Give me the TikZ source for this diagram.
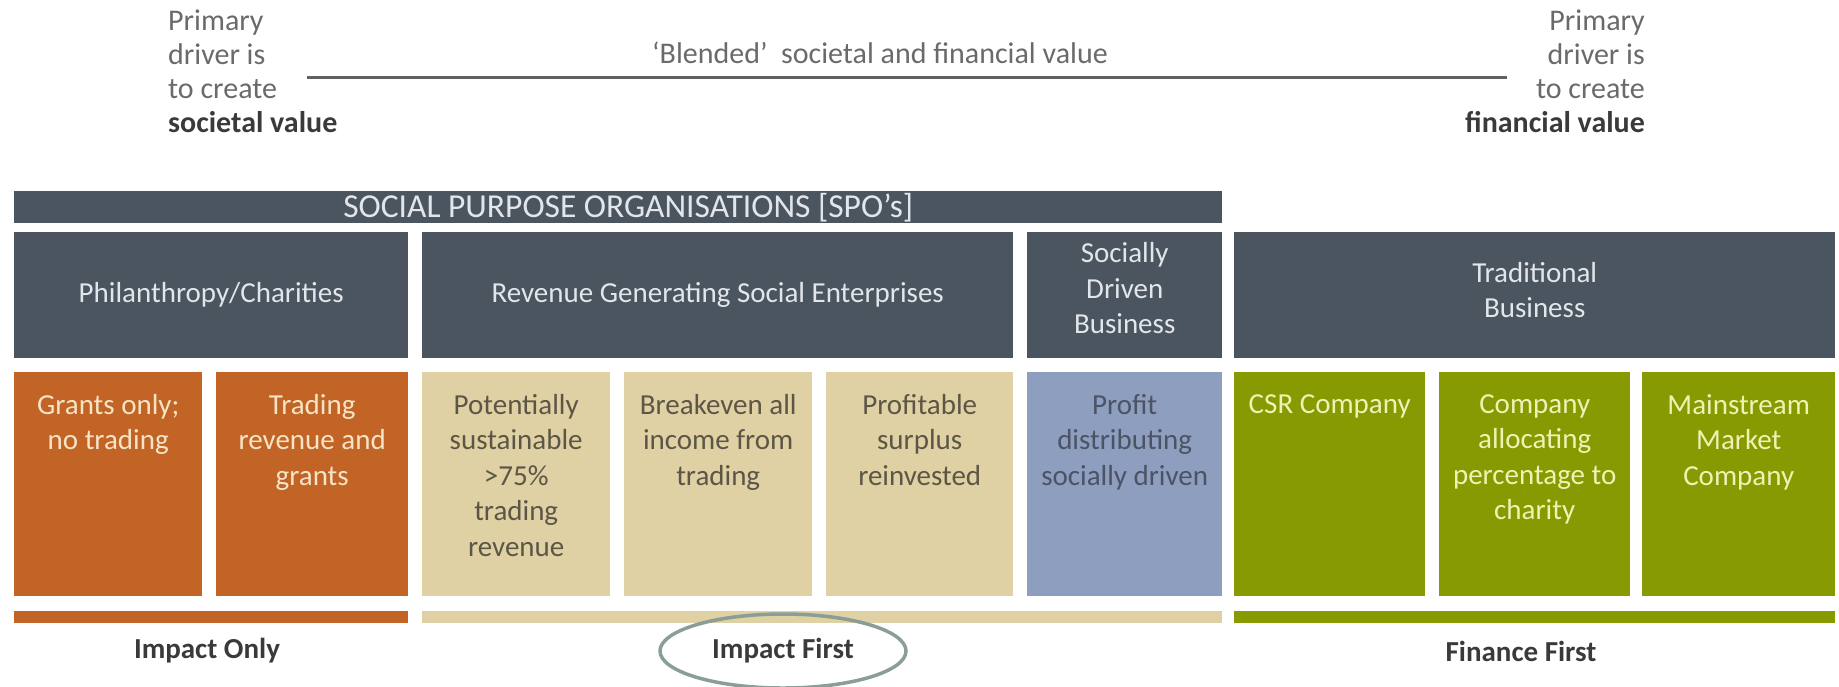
\documentclass[tikz,border=0pt]{standalone}
\usepackage{fontspec}
\setmainfont{Carlito}

\definecolor{slate}{HTML}{4A5560}
\definecolor{headtxt}{HTML}{E2E6EA}
\definecolor{orng}{HTML}{C26426}
\definecolor{cream}{HTML}{F6E4C6}
\definecolor{tan}{HTML}{DFD1A3}
\definecolor{tantxt}{HTML}{5C5646}
\definecolor{bluegr}{HTML}{8E9EBF}
\definecolor{bluetxt}{HTML}{4B5364}
\definecolor{olive}{HTML}{889A02}
\definecolor{olivetxt}{HTML}{EEF3B4}
\definecolor{greytxt}{HTML}{6A6A6A}
\definecolor{darktxt}{HTML}{3A3A3A}
\definecolor{ringcol}{HTML}{8A9E96}

\tikzset{
  head/.style={fill=slate, text=headtxt, anchor=north west, align=center,
    inner sep=0pt, minimum height=126pt},
  cell/.style={anchor=north west, inner sep=0pt, minimum height=224pt},
  celltxt/.style={anchor=north, align=center, inner sep=0pt},
  bar/.style={anchor=north west, inner sep=0pt, minimum height=12pt},
  toptxt/.style={text=greytxt, inner sep=0pt, font=\fontsize{30}{34}\selectfont},
  foot/.style={text=darktxt, font=\fontsize{29}{35}\selectfont\bfseries},
  ring/.style={draw=ringcol, line width=3.5pt}
}

\begin{document}
\begin{tikzpicture}[x=1pt,y=-1pt,font=\fontsize{29}{35.5}\selectfont]
\useasboundingbox (0,0) rectangle (1839,686);

  % value scale on top
  \node[toptxt, anchor=north west, align=left] (soc) at (168,10)
    {Primary\\driver is\\to create\\\textcolor{darktxt}{\textbf{societal value}}};
  \node[toptxt, anchor=north east, align=right] (fin) at (1645,10)
    {Primary\\driver is\\to create\\\textcolor{darktxt}{\textbf{financial value}}};
  \node[toptxt] (blend) at (880,53) {`Blended'\ \ societal and financial value};
  \coordinate (scaleL) at (307,77);
  \coordinate (scaleR) at (1507,77);
  \draw[line width=3pt, color=darktxt!80] (scaleL) -- (scaleR);

  % SPO banner
  \node[head, minimum height=32pt, minimum width=1208pt,
    font=\fontsize{33.5}{36}\selectfont] (spo) at (14,191)
    {\hspace*{20pt}SOCIAL PURPOSE ORGANISATIONS [SPO's]};

  % header row
  \node[head, minimum width=394pt] (phil) at (14,232) {Philanthropy/Charities};
  \node[head, minimum width=591pt] (rev) at (422,232) {Revenue Generating Social Enterprises};
  \node[head, minimum width=195pt] (sdb) at (1027,232) {Socially\\Driven\\Business\\[-21.5pt]};
  \node[head, minimum width=601pt] (trad) at (1234,232) {Traditional\\Business\\[-24.5pt]};

  % lower row of cells
  \node[cell, fill=orng, minimum width=188pt] (grants) at (14,372) {};
  \node[cell, fill=orng, minimum width=192pt] (trading) at (216,372) {};
  \node[cell, fill=tan, minimum width=188pt] (potent) at (422,372) {};
  \node[cell, fill=tan, minimum width=188pt] (breakev) at (624,372) {};
  \node[cell, fill=tan, minimum width=187pt] (profab) at (826,372) {};
  \node[cell, fill=bluegr, minimum width=195pt] (profdist) at (1027,372) {};
  \node[cell, fill=olive, minimum width=191pt] (csr) at (1234,372) {};
  \node[cell, fill=olive, minimum width=191pt] (alloc) at (1439,372) {};
  \node[cell, fill=olive, minimum width=193pt] (mainst) at (1642,372) {};

  % cell texts
  \node[celltxt, text=cream] (grants-t) at ([yshift=-22pt]grants.north) {Grants only;\\no trading};
  \node[celltxt, text=cream] (trading-t) at ([yshift=-22pt]trading.north) {Trading\\revenue and\\grants};
  \node[celltxt, text=tantxt] (potent-t) at ([yshift=-22pt]potent.north) {Potentially\\sustainable\\>75\%\\trading\\revenue};
  \node[celltxt, text=tantxt] (breakev-t) at ([yshift=-22pt]breakev.north) {Breakeven all\\income from\\trading};
  \node[celltxt, text=tantxt] (profab-t) at ([yshift=-22pt]profab.north) {Profitable\\surplus\\reinvested};
  \node[celltxt, text=bluetxt] (profdist-t) at ([yshift=-22pt]profdist.north) {Profit\\distributing\\socially driven};
  \node[celltxt, text=olivetxt] (csr-t) at ([yshift=-22pt]csr.north) {CSR Company};
  \node[celltxt, text=olivetxt] (alloc-t) at ([yshift=-22pt]alloc.north) {Company\\allocating\\percentage to\\charity};
  \node[celltxt, text=olivetxt] (mainst-t) at ([yshift=-22pt]mainst.north) {Mainstream\\Market\\Company};

  % impact bars
  \node[bar, fill=orng, minimum width=394pt] (onlybar) at (14,611) {};
  \node[bar, fill=tan, minimum width=800pt] (firstbar) at (422,611) {};
  \node[bar, fill=olive, minimum width=601pt] (finbar) at (1234,611) {};

  % bar labels
  \node[foot] (only) at (207,651) {Impact Only};
  \node[foot] (first) at (783,651) {Impact First};
  \node[foot] (finfirst) at (1521,651) {Finance First};
  \draw[ring] (first) ellipse [x radius=123, y radius=37];

\end{tikzpicture}
\end{document}
